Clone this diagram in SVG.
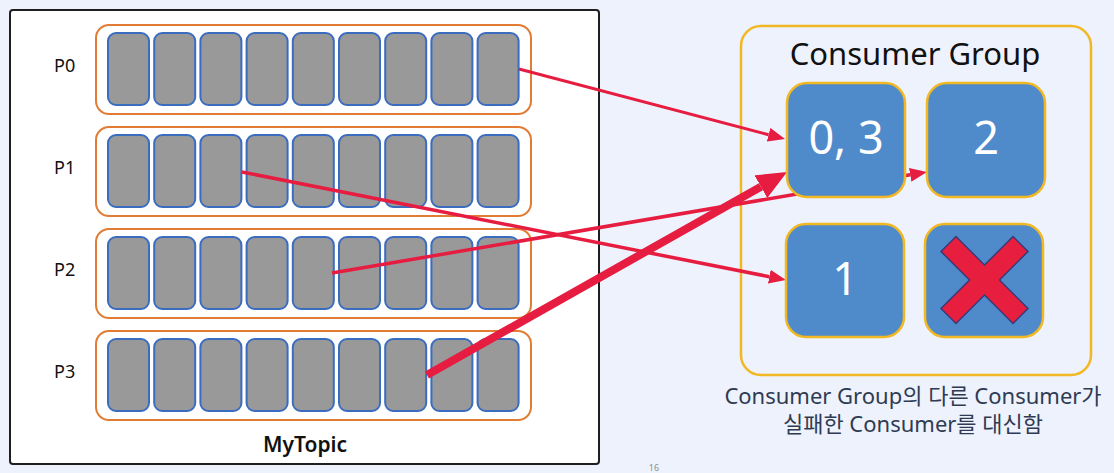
<svg xmlns="http://www.w3.org/2000/svg" width="1114" height="473" viewBox="0 0 1114 473">
  <style>
    .bg { fill: #eef2fc; }
    .topic { fill: #ffffff; stroke: #1f1f1f; stroke-width: 2; }
    .part { fill: #ffffff; stroke: #e27c32; stroke-width: 2; }
    .cell { fill: #999999; stroke: #3a6cc0; stroke-width: 2; }
    .plabel { font-family: "Noto Sans", "Liberation Sans", sans-serif; font-size: 18px; fill: #111111; }
    .title { font-family: "Noto Sans", "Liberation Sans", sans-serif; fill: #111111; text-anchor: middle; }
    .group { fill: none; stroke: #f1b823; stroke-width: 2.5; }
    .cons { fill: #4f8bcb; stroke: #f1b823; stroke-width: 2.5; }
    .num { font-family: "Noto Sans", "Liberation Sans", sans-serif; font-size: 45px; fill: #ffffff; text-anchor: middle; }
    .cross { fill: #e81e3e; stroke: #3a3a78; stroke-width: 1.5; stroke-linejoin: miter; }
    .link { stroke: #e61d40; fill: none; stroke-linecap: butt; }
    .caption { font-family: "Noto Sans", "Noto Sans CJK KR", sans-serif; font-size: 22px; fill: #2f3b52; text-anchor: middle; }
    .page { font-family: "Noto Sans", "Liberation Sans", sans-serif; font-size: 9px; fill: #8a8f99; text-anchor: middle; }
  </style>
  <defs>
    <marker id="head" markerUnits="userSpaceOnUse" markerWidth="17" markerHeight="14" refX="0" refY="7" orient="auto">
      <path d="M0,0 L17,7 L0,14 z" fill="#e61d40"/>
    </marker>
    <marker id="headBig" markerUnits="userSpaceOnUse" markerWidth="30" markerHeight="26" refX="0" refY="13" orient="auto">
      <path d="M0,0 L30,13 L0,26 z" fill="#e61d40"/>
    </marker>
    <!-- one partition: a row of nine log segments -->
    <g id="cells">
      <rect class="cell" x="108" y="8" width="41" height="72" rx="8"/>
      <rect class="cell" x="154.2" y="8" width="41" height="72" rx="8"/>
      <rect class="cell" x="200.4" y="8" width="41" height="72" rx="8"/>
      <rect class="cell" x="246.6" y="8" width="41" height="72" rx="8"/>
      <rect class="cell" x="292.8" y="8" width="41" height="72" rx="8"/>
      <rect class="cell" x="339" y="8" width="41" height="72" rx="8"/>
      <rect class="cell" x="385.2" y="8" width="41" height="72" rx="8"/>
      <rect class="cell" x="431.4" y="8" width="41" height="72" rx="8"/>
      <rect class="cell" x="477.6" y="8" width="41" height="72" rx="8"/>
    </g>
  </defs>

  <rect class="bg" x="0" y="0" width="1114" height="473"/>

  <!-- topic with four partitions -->
  <g id="topic">
    <rect class="topic" x="10" y="10" width="589" height="454" rx="3"/>
    <text class="title" x="305" y="452" font-size="21" font-weight="600">MyTopic</text>
  </g>
  <g id="p0">
    <rect class="part" x="96" y="25" width="435" height="89" rx="13"/>
    <use href="#cells" y="25"/>
    <text class="plabel" x="54" y="72">P0</text>
  </g>
  <g id="p1">
    <rect class="part" x="96" y="127" width="435" height="89" rx="13"/>
    <use href="#cells" y="127"/>
    <text class="plabel" x="54" y="174">P1</text>
  </g>
  <g id="p2">
    <rect class="part" x="96" y="229" width="435" height="89" rx="13"/>
    <use href="#cells" y="229"/>
    <text class="plabel" x="54" y="276">P2</text>
  </g>
  <g id="p3">
    <rect class="part" x="96" y="331" width="435" height="89" rx="13"/>
    <use href="#cells" y="331"/>
    <text class="plabel" x="54" y="378">P3</text>
  </g>

  <!-- consumer group frame -->
  <g id="consumer-group">
    <rect class="group" x="741" y="26" width="350" height="349" rx="20"/>
    <text class="title" x="915" y="65" font-size="31">Consumer Group</text>
  </g>

  <!-- partition to consumer assignments -->
  <g id="connectors">
    <line class="link" x1="519" y1="69" x2="768.6" y2="134.7" stroke-width="3" marker-end="url(#head)"/>
    <line class="link" x1="242" y1="172" x2="769.3" y2="276.7" stroke-width="3.5" marker-end="url(#head)"/>
    <line class="link" x1="332" y1="273" x2="910.2" y2="174.8" stroke-width="3.5" marker-end="url(#head)"/>
    <line class="link" x1="427" y1="375" x2="760.9" y2="186.7" stroke-width="8" marker-end="url(#headBig)"/>
  </g>

  <!-- consumers -->
  <g id="consumer-03">
    <rect class="cons" x="787" y="83" width="118" height="114" rx="20"/>
    <text class="num" x="846" y="154">0, 3</text>
  </g>
  <g id="consumer-2">
    <rect class="cons" x="927" y="83" width="118" height="114" rx="20"/>
    <text class="num" x="986" y="154">2</text>
  </g>
  <g id="consumer-1">
    <rect class="cons" x="786" y="224" width="118" height="113" rx="20"/>
    <text class="num" x="845" y="295">1</text>
  </g>
  <g id="consumer-failed">
    <rect class="cons" x="925" y="224" width="118" height="113" rx="20"/>
    <polygon class="cross" points="941,251.5 956,236.5 984.5,265 1013,236.5 1028,251.5 999.5,280 1028,308.5 1013,323.5 984.5,295 956,323.5 941,308.5 969.5,280"/>
  </g>

  <g id="caption">
    <text class="caption" x="913" y="404">Consumer Group의 다른 Consumer가</text>
    <text class="caption" x="913" y="432">실패한 Consumer를 대신함</text>
  </g>
  <text class="page" x="654" y="471">16</text>
</svg>
